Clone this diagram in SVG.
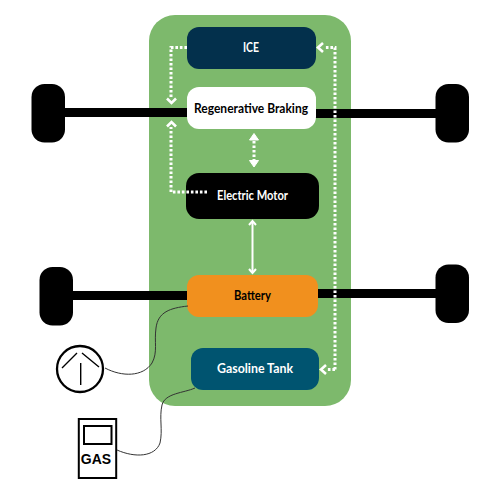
<svg xmlns="http://www.w3.org/2000/svg" width="500" height="494" viewBox="0 0 500 494">
<style>
.t{font-family:"Lato","Liberation Sans",sans-serif;font-size:13.5px;font-weight:700;text-anchor:middle}
.w{fill:#fff}.k{fill:#000}
.dot{fill:none;stroke:#fff;stroke-width:3;stroke-dasharray:2.6 1.9}
.head{fill:none;stroke:#fff;stroke-width:2.6}
.thin{fill:none;stroke:#fff;stroke-width:2}
.cable{fill:none;stroke:#333;stroke-width:1}
</style>
<rect width="500" height="494" fill="#fff"/>
<rect id="chassis" x="149" y="15" width="202" height="391" rx="26" fill="#7db96c"/>
<g id="axles">
<rect x="64" y="108" width="126" height="9" fill="#000"/>
<rect x="312" y="109" width="125" height="9" fill="#000"/>
<rect x="72" y="291" width="118" height="9" fill="#000"/>
<rect x="316" y="289" width="121" height="9" fill="#000"/>
</g>
<g id="wheels">
<rect x="31.500" y="84" width="33.500" height="58.500" rx="13" fill="#000"/>
<rect x="435.500" y="84" width="33.500" height="58.500" rx="13" fill="#000"/>
<rect x="39.500" y="267" width="33.500" height="58.500" rx="13" fill="#000"/>
<rect x="435.500" y="264.500" width="33.500" height="58.500" rx="13" fill="#000"/>
</g>
<g id="ice"><rect x="187" y="27" width="129" height="42" rx="12" fill="#03304c"/><text class="t w" x="251" y="52" textLength="16" lengthAdjust="spacingAndGlyphs">ICE</text></g>
<g id="regen"><rect x="187" y="87" width="129" height="42" rx="12" fill="#fff"/><text class="t k" x="251" y="112.500" textLength="114" lengthAdjust="spacingAndGlyphs">Regenerative Braking</text></g>
<g id="motor"><rect x="186" y="173" width="133" height="46" rx="13" fill="#000"/><text class="t w" x="252.500" y="200" textLength="71" lengthAdjust="spacingAndGlyphs">Electric Motor</text></g>
<g id="battery"><rect x="187" y="275" width="131" height="42" rx="12" fill="#f1901e"/><text class="t k" x="252.500" y="300" textLength="37" lengthAdjust="spacingAndGlyphs">Battery</text></g>
<g id="tank"><rect x="191" y="348" width="128" height="42" rx="12" fill="#005470"/><text class="t w" x="255" y="373" textLength="76" lengthAdjust="spacingAndGlyphs">Gasoline Tank</text></g>
<g id="charger" fill="none" stroke="#000">
<circle cx="80" cy="369" r="23" stroke-width="2.300"/>
<path stroke-width="1.400" d="M62 368L77 353M82 353L99 367M80.700 363V385"/>
</g>
<g id="pump">
<rect x="78.800" y="419" width="37.400" height="59" fill="#fff" stroke="#000" stroke-width="2"/>
<rect x="84" y="426" width="27.500" height="18" fill="none" stroke="#000" stroke-width="2"/>
<text x="96" y="464" style="font-family:'Liberation Sans',sans-serif;font-size:14px;font-weight:700;text-anchor:middle" fill="#000">GAS</text>
</g>
<g id="connectors">
<path class="dot" d="M187 47.500H171V99"/>
<path class="head" d="M167 98.500L171.500 103L176 98.500"/>
<path class="dot" d="M207 192H171V127"/>
<path class="head" d="M167 126.500L171.500 122L176 126.500"/>
<path class="dot" d="M335 369.500V47.500H325"/>
<path class="head" d="M323 43L318 47.500L323 52"/>
<path class="dot" d="M335 369.500H327"/>
<path class="head" d="M326 365L321 369.500L326 374"/>
<path class="dot" d="M254 141V160"/>
<path d="M254 133.500L249.500 140H258.500Z M254 167L249.500 160.500H258.500Z" fill="#fff" stroke="#fff"/>
<path class="thin" d="M252.500 222V272"/>
<path class="thin" d="M249 225L252.500 221L256 225M249 269L252.500 273L256 269"/>
<path class="cable" d="M188 306C170 308 158 312 156 328C154 342 158 352 152 363C143 377 122 377 105 368"/>
<path class="cable" d="M195 388C184 393 165 393 162 405C159 418 163 430 160 443C155 457 135 458 117 450"/>
</g>
</svg>
